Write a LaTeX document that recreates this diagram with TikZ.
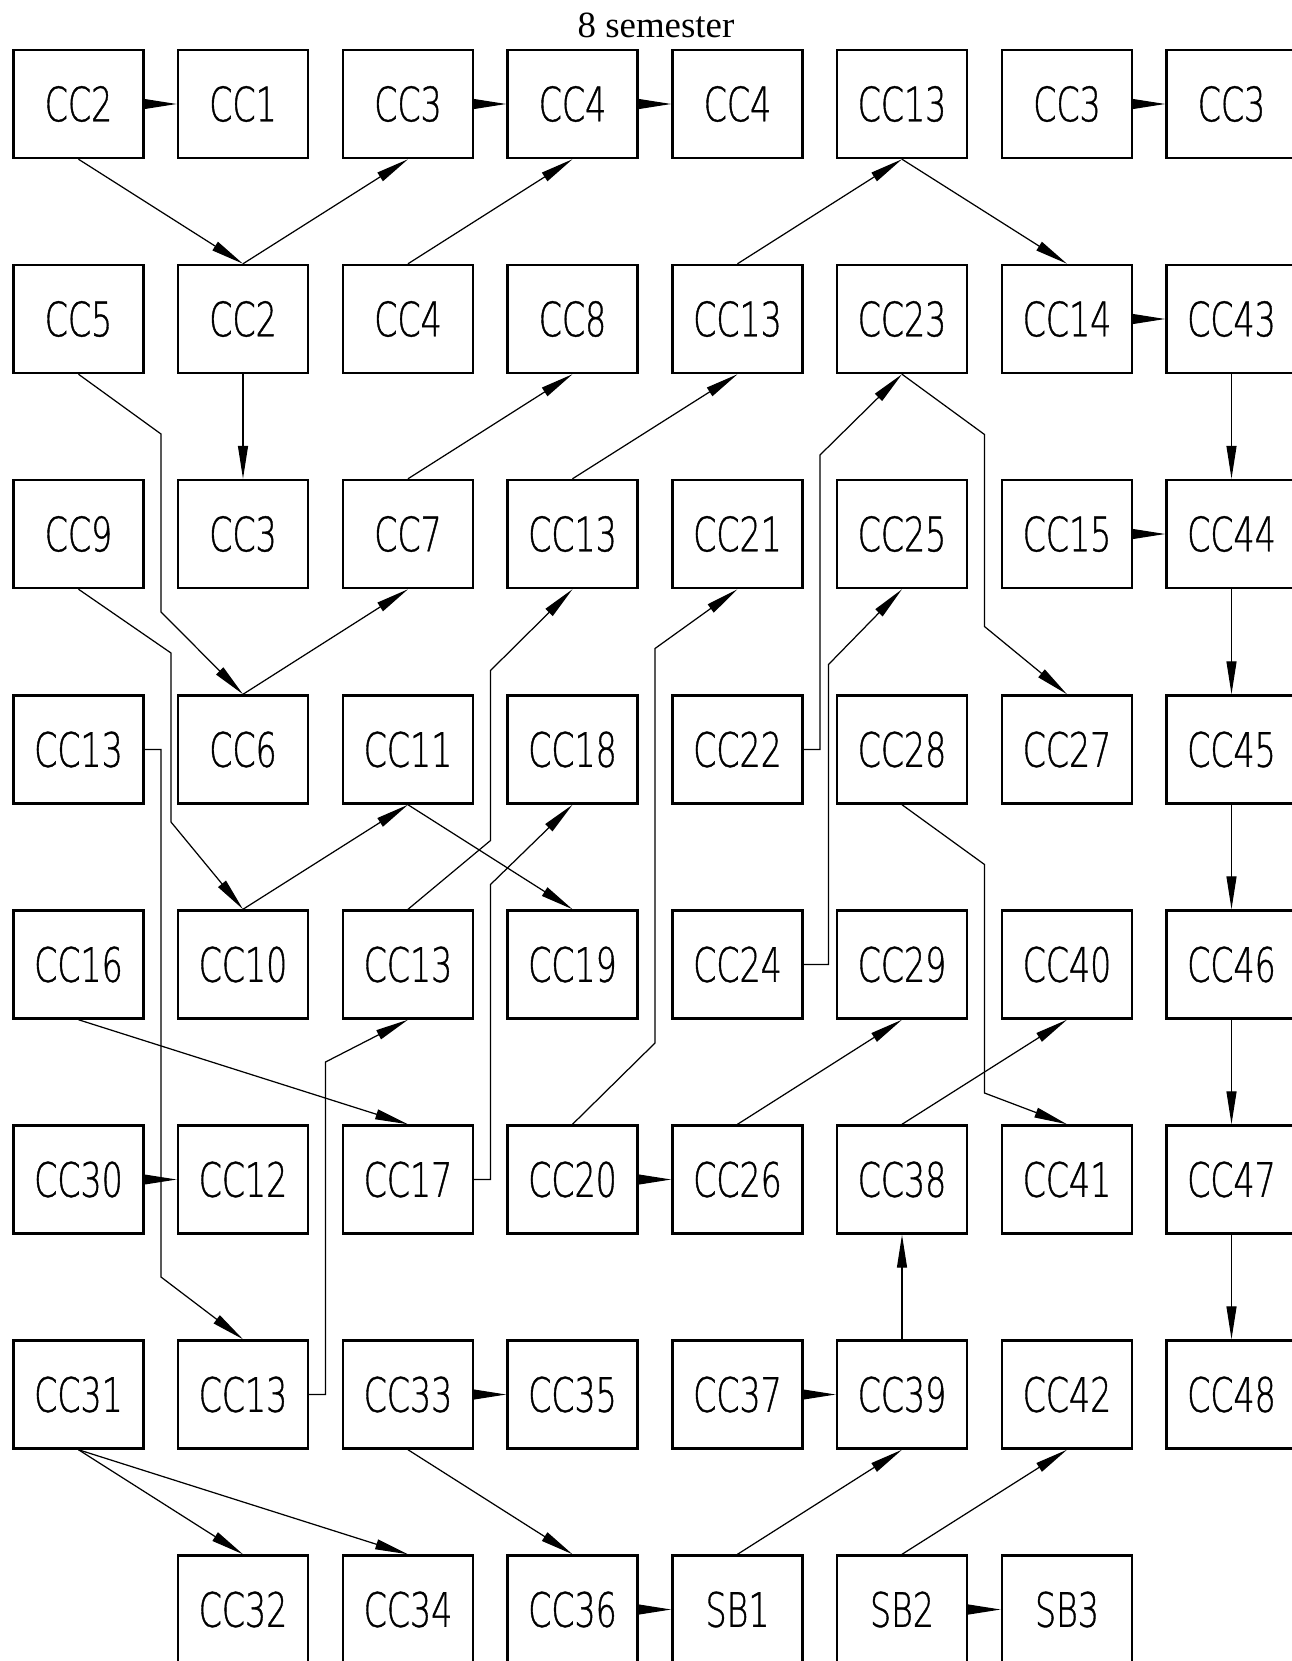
\documentclass[tikz,border=0pt]{standalone}
\usepackage{fontspec}
\setmainfont{Liberation Serif}
\newfontfamily\gostfont[FakeStretch=0.7,FakeBold=0.8]{DejaVu Sans ExtraLight}
\usetikzlibrary{arrows.meta}

\begin{document}
\begin{tikzpicture}[
        box/.style={rectangle, draw=black, line width=1.4pt, minimum width=2.6cm, minimum height=2.16cm, inner sep=0pt, align=center, font=\gostfont\fontsize{27}{28}\selectfont},
        arrow/.style={-{Triangle[length=6.6mm,width=2mm]}, line width=0.7pt}]

        \useasboundingbox (0,0) rectangle (25.82,-33.22);
        \node[anchor=base, font=\fontsize{21}{22}\selectfont] (TITLE) at (13.12,-0.74) {8 semester};

        % row 1
        \node[box] (CC2a) at (1.57,-2.08) {CC2};
        \node[box] (CC1) at (4.86,-2.08) {CC1};
        \node[box] (CC3a) at (8.16,-2.08) {CC3};
        \node[box] (CC4a) at (11.45,-2.08) {CC4};
        \node[box] (CC4b) at (14.75,-2.08) {CC4};
        \node[box] (CC13a) at (18.04,-2.08) {CC13};
        \node[box] (CC3b) at (21.34,-2.08) {CC3};
        \node[box] (CC3c) at (24.63,-2.08) {CC3};
        % row 2
        \node[box] (CC5) at (1.57,-6.38) {CC5};
        \node[box] (CC2b) at (4.86,-6.38) {CC2};
        \node[box] (CC4c) at (8.16,-6.38) {CC4};
        \node[box] (CC8) at (11.45,-6.38) {CC8};
        \node[box] (CC13b) at (14.75,-6.38) {CC13};
        \node[box] (CC23) at (18.04,-6.38) {CC23};
        \node[box] (CC14) at (21.34,-6.38) {CC14};
        \node[box] (CC43) at (24.63,-6.38) {CC43};
        % row 3
        \node[box] (CC9) at (1.57,-10.68) {CC9};
        \node[box] (CC3d) at (4.86,-10.68) {CC3};
        \node[box] (CC7) at (8.16,-10.68) {CC7};
        \node[box] (CC13c) at (11.45,-10.68) {CC13};
        \node[box] (CC21) at (14.75,-10.68) {CC21};
        \node[box] (CC25) at (18.04,-10.68) {CC25};
        \node[box] (CC15) at (21.34,-10.68) {CC15};
        \node[box] (CC44) at (24.63,-10.68) {CC44};
        % row 4
        \node[box] (CC13d) at (1.57,-14.99) {CC13};
        \node[box] (CC6) at (4.86,-14.99) {CC6};
        \node[box] (CC11) at (8.16,-14.99) {CC11};
        \node[box] (CC18) at (11.45,-14.99) {CC18};
        \node[box] (CC22) at (14.75,-14.99) {CC22};
        \node[box] (CC28) at (18.04,-14.99) {CC28};
        \node[box] (CC27) at (21.34,-14.99) {CC27};
        \node[box] (CC45) at (24.63,-14.99) {CC45};
        % row 5
        \node[box] (CC16) at (1.57,-19.29) {CC16};
        \node[box] (CC10) at (4.86,-19.29) {CC10};
        \node[box] (CC13e) at (8.16,-19.29) {CC13};
        \node[box] (CC19) at (11.45,-19.29) {CC19};
        \node[box] (CC24) at (14.75,-19.29) {CC24};
        \node[box] (CC29) at (18.04,-19.29) {CC29};
        \node[box] (CC40) at (21.34,-19.29) {CC40};
        \node[box] (CC46) at (24.63,-19.29) {CC46};
        % row 6
        \node[box] (CC30) at (1.57,-23.59) {CC30};
        \node[box] (CC12) at (4.86,-23.59) {CC12};
        \node[box] (CC17) at (8.16,-23.59) {CC17};
        \node[box] (CC20) at (11.45,-23.59) {CC20};
        \node[box] (CC26) at (14.75,-23.59) {CC26};
        \node[box] (CC38) at (18.04,-23.59) {CC38};
        \node[box] (CC41) at (21.34,-23.59) {CC41};
        \node[box] (CC47) at (24.63,-23.59) {CC47};
        % row 7
        \node[box] (CC31) at (1.57,-27.89) {CC31};
        \node[box] (CC13f) at (4.86,-27.89) {CC13};
        \node[box] (CC33) at (8.16,-27.89) {CC33};
        \node[box] (CC35) at (11.45,-27.89) {CC35};
        \node[box] (CC37) at (14.75,-27.89) {CC37};
        \node[box] (CC39) at (18.04,-27.89) {CC39};
        \node[box] (CC42) at (21.34,-27.89) {CC42};
        \node[box] (CC48) at (24.63,-27.89) {CC48};
        % row 8
        \node[box] (CC32) at (4.86,-32.19) {CC32};
        \node[box] (CC34) at (8.16,-32.19) {CC34};
        \node[box] (CC36) at (11.45,-32.19) {CC36};
        \node[box] (SB1) at (14.75,-32.19) {SB1};
        \node[box] (SB2) at (18.04,-32.19) {SB2};
        \node[box] (SB3) at (21.34,-32.19) {SB3};

        % horizontal links
        \draw[arrow] (CC2a.east) -- (CC1.west);
        \draw[arrow] (CC3a.east) -- (CC4a.west);
        \draw[arrow] (CC4a.east) -- (CC4b.west);
        \draw[arrow] (CC3b.east) -- (CC3c.west);
        \draw[arrow] (CC14.east) -- (CC43.west);
        \draw[arrow] (CC15.east) -- (CC44.west);
        \draw[arrow] (CC30.east) -- (CC12.west);
        \draw[arrow] (CC20.east) -- (CC26.west);
        \draw[arrow] (CC33.east) -- (CC35.west);
        \draw[arrow] (CC37.east) -- (CC39.west);
        \draw[arrow] (CC36.east) -- (SB1.west);
        \draw[arrow] (SB2.east) -- (SB3.west);

        % straight links
        \draw[arrow] (CC2a.south) -- (CC2b.north);
        \draw[arrow] (CC2b.north) -- (CC3a.south);
        \draw[arrow] (CC4c.north) -- (CC4a.south);
        \draw[arrow] (CC13b.north) -- (CC13a.south);
        \draw[arrow] (CC13a.south) -- (CC14.north);
        \draw[arrow] (CC2b.south) -- (CC3d.north);
        \draw[arrow] (CC7.north) -- (CC8.south);
        \draw[arrow] (CC13c.north) -- (CC13b.south);
        \draw[arrow] (CC6.north) -- (CC7.south);
        \draw[arrow] (CC10.north) -- (CC11.south);
        \draw[arrow] (CC11.south) -- (CC19.north);
        \draw[arrow] (CC16.south) -- (CC17.north);
        \draw[arrow] (CC26.north) -- (CC29.south);
        \draw[arrow] (CC38.north) -- (CC40.south);
        \draw[arrow] (CC39.north) -- (CC38.south);
        \draw[arrow] (CC31.south) -- (CC32.north);
        \draw[arrow] (CC31.south) -- (CC34.north);
        \draw[arrow] (CC33.south) -- (CC36.north);
        \draw[arrow] (SB1.north) -- (CC39.south);
        \draw[arrow] (SB2.north) -- (CC42.south);
        \draw[arrow] (CC43.south) -- (CC44.north);
        \draw[arrow] (CC44.south) -- (CC45.north);
        \draw[arrow] (CC45.south) -- (CC46.north);
        \draw[arrow] (CC46.south) -- (CC47.north);
        \draw[arrow] (CC47.south) -- (CC48.north);

        % routed links
        \draw[arrow] (CC5.south) -- (3.22,-8.68) -- (3.22,-12.24) -- (CC6.north);
        \draw[arrow] (CC9.south) -- (3.42,-13.06) -- (3.42,-16.44) -- (CC10.north);
        \draw[arrow] (CC13d.east) -| (3.22,-25.54) -- (CC13f.north);
        \draw[arrow] (CC13f.east) -| (6.51,-21.24) -- (CC13e.south);
        \draw[arrow] (CC13e.north) -- (9.81,-16.81) -- (9.81,-13.41) -- (CC13c.south);
        \draw[arrow] (CC17.east) -| (9.81,-17.69) -- (CC18.south);
        \draw[arrow] (CC20.north) -- (13.10,-20.86) -- (13.10,-12.97) -- (CC21.south);
        \draw[arrow] (CC22.east) -| (16.40,-9.10) -- (CC23.south);
        \draw[arrow] (CC24.east) -| (16.57,-13.29) -- (CC25.south);
        \draw[arrow] (CC23.south) -- (19.69,-8.69) -- (19.69,-12.53) -- (CC27.north);
        \draw[arrow] (CC28.south) -- (19.69,-17.29) -- (19.69,-21.86) -- (CC41.north);

    \end{tikzpicture}
\end{document}
